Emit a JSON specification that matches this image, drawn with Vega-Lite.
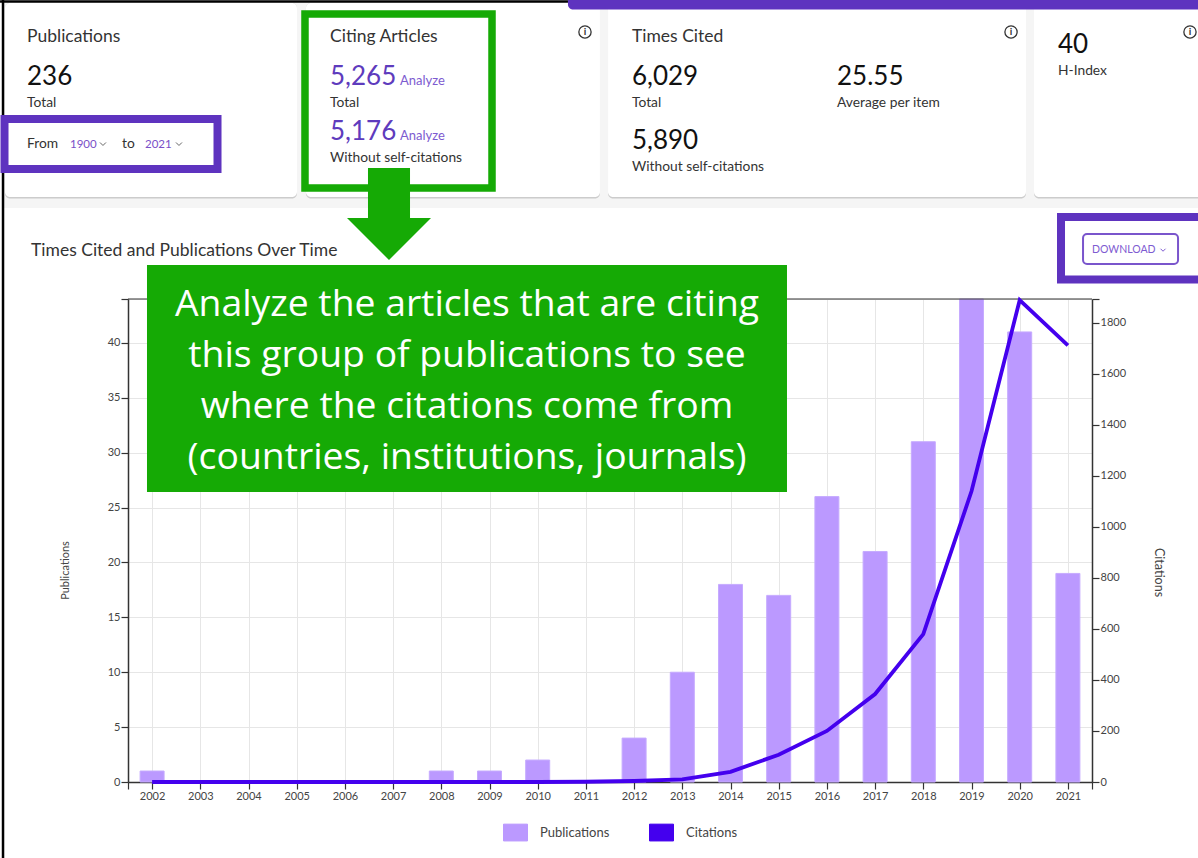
{"$schema":"https://vega.github.io/schema/vega-lite/v6.json","width":964,"height":483,"autosize":"none","padding":{"left":128,"top":299,"right":106,"bottom":76},"background":"#ffffff",
"config":{"view":{"stroke":null},"axis":{"labelFont":"Lato","titleFont":"Lato","labelFontSize":11,"labelColor":"#444444","titleColor":"#444444","titleFontSize":11,"titleFontWeight":"normal","domainColor":"#333333","tickColor":"#333333","gridColor":"#e6e6e6","tickSize":7,"domainWidth":1.5,"tickWidth":1.2,"labelPadding":1},"text":{"font":"Lato","align":"left","baseline":"alphabetic","color":"#333333"},"legend":{"labelFont":"Lato"}},
"layer":[
{"layer":[
{"data":{"values":[{"year":2002,"series":"Publications","value":1},{"year":2008,"series":"Publications","value":1},{"year":2009,"series":"Publications","value":1},{"year":2010,"series":"Publications","value":2},{"year":2012,"series":"Publications","value":4},{"year":2013,"series":"Publications","value":10},{"year":2014,"series":"Publications","value":18},{"year":2015,"series":"Publications","value":17},{"year":2016,"series":"Publications","value":26},{"year":2017,"series":"Publications","value":21},{"year":2018,"series":"Publications","value":31},{"year":2019,"series":"Publications","value":44},{"year":2020,"series":"Publications","value":41},{"year":2021,"series":"Publications","value":19}]},
"mark":{"type":"bar","size":24,"stroke":"#c6abff","strokeWidth":1},
"encoding":{"x":{"field":"year","type":"quantitative","title":null,"scale":{"domain":[2001.5,2021.5],"nice":false,"zero":false,"padding":0},"axis":{"values":[2001.5,2002,2003,2004,2005,2006,2007,2008,2009,2010,2011,2012,2013,2014,2015,2016,2017,2018,2019,2020,2021,2021.5],"labelExpr":"datum.value%1?'':format(datum.value,'d')","labelDx":-3,"labelOverlap":false,"labelFlush":false,"title":null,"grid":true,"gridWidth":1}},
"y":{"field":"value","type":"quantitative","stack":null,"scale":{"domain":[0,44],"nice":false},"axis":{"values":[0,5,10,15,20,25,30,35,40,44],"labelExpr":"datum.value==44?'':datum.label","title":"Publications","titleX":-58,"titleY":271,"grid":true}},
"color":{"field":"series","type":"nominal","scale":{"domain":["Publications","Citations"],"range":["#bb99ff","#4400ee"]},"legend":{"title":null,"orient":"none","legendX":375,"legendY":521,"direction":"horizontal","columns":2,"symbolType":"M-1,-0.7H1V0.7H-1Z","symbolSize":576,"symbolStrokeWidth":1,"labelFontSize":13,"labelColor":"#444444","labelOffset":12,"columnPadding":37}}}},
{"data":{"values":[{}]},"mark":{"type":"rule","color":"#333333","strokeWidth":1.2},"encoding":{"x":{"datum":2001.5},"x2":{"datum":2021.5},"y":{"datum":44}}}
]},
{"layer":[
{"data":{"values":[{"year":2002,"series":"Citations","value":0},{"year":2003,"series":"Citations","value":0},{"year":2004,"series":"Citations","value":0},{"year":2005,"series":"Citations","value":0},{"year":2006,"series":"Citations","value":0},{"year":2007,"series":"Citations","value":0},{"year":2008,"series":"Citations","value":0},{"year":2009,"series":"Citations","value":0},{"year":2010,"series":"Citations","value":0},{"year":2011,"series":"Citations","value":1},{"year":2012,"series":"Citations","value":4},{"year":2013,"series":"Citations","value":10},{"year":2014,"series":"Citations","value":40},{"year":2015,"series":"Citations","value":107},{"year":2016,"series":"Citations","value":200},{"year":2017,"series":"Citations","value":345},{"year":2018,"series":"Citations","value":580},{"year":2019,"series":"Citations","value":1140},{"year":2020,"series":"Citations","value":1890},{"year":2021,"series":"Citations","value":1712}]},
"mark":{"type":"line","strokeWidth":3.8,"clip":false},
"encoding":{"x":{"field":"year","type":"quantitative"},
"y":{"field":"value","type":"quantitative","scale":{"domain":[0,1894],"nice":false},"axis":{"orient":"right","values":[0,200,400,600,800,1000,1200,1400,1600,1800,1894],"format":"d","labelExpr":"datum.value==1894?'':datum.label","labelFontSize":11,"title":"Citations","titleAngle":90,"titleX":59,"titleY":273,"titleFontSize":12.5,"grid":false}},
"color":{"field":"series","type":"nominal","legend":null}}}
]},
{"data":{"values":[{}]},"layer":[
{"mark":{"type":"rect","color":"#f5f5f5"},"encoding":{"x":{"datum":1998.886},"x2":{"datum":2023.949},"y":{"datum":71.24,"scale":{"domain":[0,44],"nice":false,"zero":false},"axis":{"domain":false,"ticks":false,"labels":false,"grid":false,"title":null}},"y2":{"datum":52.291}}},
{"mark":{"type":"rect","color":"#cccccc","cornerRadius":5},"encoding":{"x":{"datum":1998.948},"x2":{"datum":2005.006},"y":{"datum":70.967},"y2":{"datum":53.15}}},
{"mark":{"type":"rect","color":"#cccccc","cornerRadius":5},"encoding":{"x":{"datum":2005.192},"x2":{"datum":2011.292},"y":{"datum":70.967},"y2":{"datum":53.15}}},
{"mark":{"type":"rect","color":"#cccccc","cornerRadius":5},"encoding":{"x":{"datum":2011.459},"x2":{"datum":2020.131},"y":{"datum":70.967},"y2":{"datum":53.15}}},
{"mark":{"type":"rect","color":"#cccccc","cornerRadius":5},"encoding":{"x":{"datum":2020.297},"x2":{"datum":2023.949},"y":{"datum":70.967},"y2":{"datum":53.15}}},
{"mark":{"type":"rect","color":"#ffffff","cornerRadius":5},"encoding":{"x":{"datum":1998.948},"x2":{"datum":2005.006},"y":{"datum":70.967},"y2":{"datum":53.3}}},
{"mark":{"type":"rect","color":"#ffffff","cornerRadius":5},"encoding":{"x":{"datum":2005.192},"x2":{"datum":2011.292},"y":{"datum":70.967},"y2":{"datum":53.3}}},
{"mark":{"type":"rect","color":"#ffffff","cornerRadius":5},"encoding":{"x":{"datum":2011.459},"x2":{"datum":2020.131},"y":{"datum":70.967},"y2":{"datum":53.3}}},
{"mark":{"type":"rect","color":"#ffffff","cornerRadius":5},"encoding":{"x":{"datum":2020.297},"x2":{"datum":2023.949},"y":{"datum":70.967},"y2":{"datum":53.3}}},
{"mark":{"type":"rule","color":"#000000","strokeWidth":2.5},"encoding":{"x":{"datum":1998.907},"y":{"datum":71.24},"y2":{"datum":-6.924}}},
{"mark":{"type":"rule","color":"#000000","strokeWidth":2.5},"encoding":{"x":{"datum":1998.845},"x2":{"datum":2010.628},"y":{"datum":71.104}}},
{"mark":{"type":"rect","color":"#5e33bf","cornerRadius":5},"encoding":{"x":{"datum":2010.628},"x2":{"datum":2023.949},"y":{"datum":71.69},"y2":{"datum":70.375}}},
{"mark":{"type":"rect","fill":"transparent","stroke":"#5e33bf","strokeWidth":8},"encoding":{"x":{"datum":1998.938},"x2":{"datum":2003.357},"y":{"datum":60.399},"y2":{"datum":55.844}}},
{"mark":{"type":"rect","fill":"transparent","stroke":"#15aa05","strokeWidth":7.5},"encoding":{"x":{"datum":2005.172},"x2":{"datum":2009.052},"y":{"datum":69.965},"y2":{"datum":54.113}}},
{"mark":{"type":"rect","fill":"transparent","stroke":"#5e33bf","strokeWidth":8},"encoding":{"x":{"datum":2020.857},"x2":{"datum":2023.949},"y":{"datum":51.472},"y2":{"datum":45.778}}},
{"mark":{"type":"rect","fill":"#ffffff","stroke":"#7a55cc","strokeWidth":2,"cornerRadius":4},"encoding":{"x":{"datum":2021.314},"x2":{"datum":2023.285},"y":{"datum":49.923},"y2":{"datum":47.19}}},
{"mark":{"type":"text","text":"Publications","fontSize":17.5},"encoding":{"x":{"datum":1999.405},"y":{"datum":67.41}}},
{"mark":{"type":"text","text":"236","fontSize":26,"color":"#111111"},"encoding":{"x":{"datum":1999.405},"y":{"datum":63.497}}},
{"mark":{"type":"text","text":"Total","fontSize":13.8},"encoding":{"x":{"datum":1999.405},"y":{"datum":61.493}}},
{"mark":{"type":"text","text":"From","fontSize":13.8},"encoding":{"x":{"datum":1999.405},"y":{"datum":57.757}}},
{"mark":{"type":"text","text":"1900","fontSize":11.5,"color":"#7a50c8"},"encoding":{"x":{"datum":2000.296},"y":{"datum":57.757}}},
{"mark":{"type":"text","text":"to","fontSize":13.8},"encoding":{"x":{"datum":2001.376},"y":{"datum":57.757}}},
{"mark":{"type":"text","text":"2021","fontSize":11.5,"color":"#7a50c8"},"encoding":{"x":{"datum":2001.853},"y":{"datum":57.757}}},
{"mark":{"type":"point","shape":"M-1,-0.5L0,0.5L1,-0.5","size":36,"stroke":"#666666","strokeWidth":1,"filled":false,"opacity":1},"encoding":{"x":{"datum":2000.981},"y":{"datum":58.122}}},
{"mark":{"type":"point","shape":"M-1,-0.5L0,0.5L1,-0.5","size":36,"stroke":"#666666","strokeWidth":1,"filled":false,"opacity":1},"encoding":{"x":{"datum":2002.558},"y":{"datum":58.122}}},
{"mark":{"type":"text","text":"Citing Articles","fontSize":17.5},"encoding":{"x":{"datum":2005.691},"y":{"datum":67.41}}},
{"mark":{"type":"text","text":"5,265","fontSize":26,"color":"#5e3bbd"},"encoding":{"x":{"datum":2005.691},"y":{"datum":63.497}}},
{"mark":{"type":"text","text":"Analyze","fontSize":13,"color":"#7d5bd0"},"encoding":{"x":{"datum":2007.144},"y":{"datum":63.497}}},
{"mark":{"type":"text","text":"Total","fontSize":13.8},"encoding":{"x":{"datum":2005.691},"y":{"datum":61.493}}},
{"mark":{"type":"text","text":"5,176","fontSize":26,"color":"#5e3bbd"},"encoding":{"x":{"datum":2005.691},"y":{"datum":58.486}}},
{"mark":{"type":"text","text":"Analyze","fontSize":13,"color":"#7d5bd0"},"encoding":{"x":{"datum":2007.144},"y":{"datum":58.486}}},
{"mark":{"type":"text","text":"Without self-citations","fontSize":13.8},"encoding":{"x":{"datum":2005.691},"y":{"datum":56.482}}},
{"mark":{"type":"text","text":"Times Cited","fontSize":17.5},"encoding":{"x":{"datum":2011.956},"y":{"datum":67.41}}},
{"mark":{"type":"text","text":"6,029","fontSize":26,"color":"#111111"},"encoding":{"x":{"datum":2011.956},"y":{"datum":63.497}}},
{"mark":{"type":"text","text":"25.55","fontSize":26,"color":"#111111"},"encoding":{"x":{"datum":2016.21},"y":{"datum":63.497}}},
{"mark":{"type":"text","text":"Total","fontSize":13.8},"encoding":{"x":{"datum":2011.956},"y":{"datum":61.493}}},
{"mark":{"type":"text","text":"Average per item","fontSize":13.8},"encoding":{"x":{"datum":2016.21},"y":{"datum":61.493}}},
{"mark":{"type":"text","text":"5,890","fontSize":26,"color":"#111111"},"encoding":{"x":{"datum":2011.956},"y":{"datum":57.666}}},
{"mark":{"type":"text","text":"Without self-citations","fontSize":13.8},"encoding":{"x":{"datum":2011.956},"y":{"datum":55.662}}},
{"mark":{"type":"text","text":"40","fontSize":26,"color":"#111111"},"encoding":{"x":{"datum":2020.795},"y":{"datum":66.41}}},
{"mark":{"type":"text","text":"H-Index","fontSize":13.8},"encoding":{"x":{"datum":2020.795},"y":{"datum":64.408}}},
{"mark":{"type":"point","shape":"circle","size":150,"stroke":"#333333","strokeWidth":1.3,"filled":false,"opacity":1},"encoding":{"x":{"datum":2010.981},"y":{"datum":68.325}}},
{"mark":{"type":"point","shape":"circle","size":150,"stroke":"#333333","strokeWidth":1.3,"filled":false,"opacity":1},"encoding":{"x":{"datum":2019.82},"y":{"datum":68.325}}},
{"mark":{"type":"point","shape":"circle","size":150,"stroke":"#333333","strokeWidth":1.3,"filled":false,"opacity":1},"encoding":{"x":{"datum":2023.533},"y":{"datum":68.325}}},
{"mark":{"type":"text","text":"i","fontSize":10,"align":"center","fontWeight":"bold"},"encoding":{"x":{"datum":2010.981},"y":{"datum":68.006}}},
{"mark":{"type":"text","text":"i","fontSize":10,"align":"center","fontWeight":"bold"},"encoding":{"x":{"datum":2019.82},"y":{"datum":68.006}}},
{"mark":{"type":"text","text":"i","fontSize":10,"align":"center","fontWeight":"bold"},"encoding":{"x":{"datum":2023.533},"y":{"datum":68.006}}},
{"mark":{"type":"text","text":"Times Cited and Publications Over Time","fontSize":17.5},"encoding":{"x":{"datum":1999.488},"y":{"datum":47.92}}},
{"mark":{"type":"text","text":"DOWNLOAD","fontSize":10.5,"color":"#7e5bd1"},"encoding":{"x":{"datum":2021.5},"y":{"datum":48.192}}},
{"mark":{"type":"point","shape":"M-1,-0.5L0,0.5L1,-0.5","size":25,"stroke":"#7e5bd1","strokeWidth":1,"filled":false,"opacity":1},"encoding":{"x":{"datum":2022.974},"y":{"datum":48.465}}},
{"mark":{"type":"rect","color":"#15aa05"},"encoding":{"x":{"datum":2006.479},"x2":{"datum":2007.351},"y":{"datum":55.935},"y2":{"datum":51.38}}},
{"mark":{"type":"point","shape":"M-1,-0.5L1,-0.5L0,0.5Z","size":7056,"fill":"#15aa05","stroke":null,"filled":true,"opacity":1},"encoding":{"x":{"datum":2006.915},"y":{"datum":49.467}}},
{"mark":{"type":"rect","color":"#15aa05"},"encoding":{"x":{"datum":2001.894},"x2":{"datum":2015.172},"y":{"datum":47.099},"y2":{"datum":26.419}}},
{"mark":{"type":"text","text":"Analyze the articles that are citing","fontSize":37.3,"font":"Open Sans","align":"center","color":"#ffffff"},"encoding":{"x":{"datum":2008.534},"y":{"datum":42.453}}},
{"mark":{"type":"text","text":"this group of publications to see","fontSize":37.3,"font":"Open Sans","align":"center","color":"#ffffff"},"encoding":{"x":{"datum":2008.534},"y":{"datum":37.807}}},
{"mark":{"type":"text","text":"where the citations come from","fontSize":37.3,"font":"Open Sans","align":"center","color":"#ffffff"},"encoding":{"x":{"datum":2008.534},"y":{"datum":33.16}}},
{"mark":{"type":"text","text":"(countries, institutions, journals)","fontSize":37.3,"font":"Open Sans","align":"center","color":"#ffffff"},"encoding":{"x":{"datum":2008.534},"y":{"datum":28.514}}}
]}
],
"resolve":{"scale":{"y":"independent"}}}
